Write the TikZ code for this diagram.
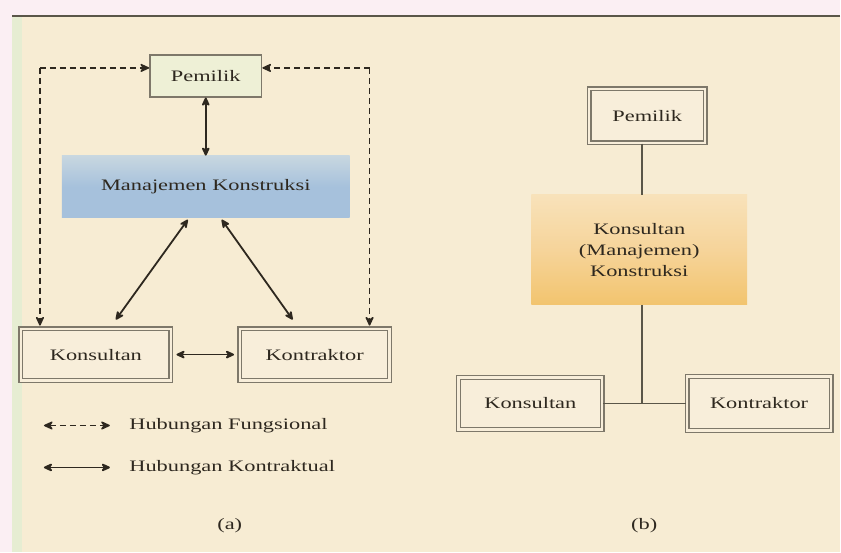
\documentclass[tikz,border=0pt]{standalone}
\usepackage{fontspec}
\setmainfont{Liberation Serif}[FakeStretch=1.4]
\usetikzlibrary{arrows.meta}
\definecolor{paper}{HTML}{F7ECD3}
\definecolor{strip}{HTML}{FBEFF3}
\definecolor{frame}{HTML}{5A5648}
\definecolor{edge}{HTML}{E6EDD2}
\definecolor{boxline}{HTML}{7E786A}
\definecolor{greenish}{HTML}{EEF0D6}
\definecolor{creambox}{HTML}{F8EEDA}
\definecolor{mkblue}{HTML}{A6C1DC}
\definecolor{mkblue2}{HTML}{C8D7E0}
\definecolor{orng}{HTML}{F2C46E}
\definecolor{orng2}{HTML}{F6D49A}
\definecolor{orng3}{HTML}{F8E2BA}
\definecolor{ink}{HTML}{2E281F}
\begin{document}
\begin{tikzpicture}[x=1pt,y=-1pt,
  lbl/.style={font=\fontsize{16}{19}\selectfont, text=ink},
  plainbox/.style={lbl, draw=boxline, line width=1.4pt, fill=creambox, inner sep=0pt},
  dblbox/.style={plainbox, double=creambox, double distance=2.2pt},
  head/.style={Stealth[length=11pt,width=10pt,round]},
  rel/.style={draw=ink, line width=1.8pt, {Stealth[length=11pt,width=10pt,round]}-{Stealth[length=11pt,width=10pt,round]}},
  funct/.style={draw=ink, line width=1.4pt, dash pattern=on 6pt off 4pt},
  tip/.style={-{Stealth[length=11pt,width=10pt,round]}},
  link/.style={draw=frame, line width=1.8pt}]
% paper and frame
\fill[strip] (0,0) rectangle (841,553);
\fill[paper] (12,16) rectangle (841,553);
\fill[edge] (12,16) rectangle (22,553);
\draw[frame, line width=2pt] (841,16) -- (12,16);

% ---------- (a) ----------
\node[plainbox, fill=greenish, minimum width=112pt, minimum height=42pt] (own) at (206,76) {Pemilik};
\node[lbl, inner sep=0pt, minimum width=288pt, minimum height=62pt,
      top color=mkblue2, bottom color=mkblue, middle color=mkblue] (mk) at (206,187) {Manajemen Konstruksi};
\node[dblbox, minimum width=150pt, minimum height=52pt] (kons) at (96,355) {Konsultan};
\node[dblbox, minimum width=150pt, minimum height=52pt] (kontr) at (315,355) {Kontraktor};

% dashed functional links from the owner
\coordinate (ftl) at (40,68);
\coordinate (ftr) at (370,68);
\coordinate (fbl) at (40,326);
\coordinate (fbr) at (370,326);
\draw[funct, tip] (ftl) -- (own.west |- ftl);
\draw[funct, tip] (ftr) -- (own.east |- ftr);
\draw[funct, tip] (ftl) -- (fbl);
\draw[funct, tip] (ftr) -- (fbr);

% contractual links
\coordinate (mka) at (188,220); \coordinate (kna) at (116,320);
\coordinate (mkb) at (222,220); \coordinate (knb) at (293,320);
\draw[rel] (own.south) -- (mk.north);
\draw[rel] (mka) -- (kna);
\draw[rel] (mkb) -- (knb);
\draw[rel, shorten <=5pt, shorten >=5pt] (kons.east) -- (kontr.west);

% legend
\coordinate (l1a) at (44,426); \coordinate (l1b) at (110,426);
\coordinate (l2a) at (44,468); \coordinate (l2b) at (110,468);
\draw[funct, {Stealth[length=11pt,width=10pt,round]}-{Stealth[length=11pt,width=10pt,round]}] (l1a) -- (l1b);
\draw[rel] (l2a) -- (l2b);
\node[lbl, anchor=west] (t1) at (126,426) {Hubungan Fungsional};
\node[lbl, anchor=west] (t2) at (126,468) {Hubungan Kontraktual};
\node[lbl] (capa) at (230,526) {(a)};

% ---------- (b) ----------
\node[dblbox, minimum width=116pt, minimum height=54pt] (own2) at (648,116) {Pemilik};
\node[lbl, align=center, inner sep=0pt, minimum width=216pt, minimum height=110pt,
      top color=orng3, bottom color=orng, middle color=orng2] (cmk) at (640,250)
      {Konsultan\\[2pt](Manajemen)\\[2pt]Konstruksi};
\node[dblbox, minimum width=144pt, minimum height=52pt] (kons2) at (531,404) {Konsultan};
\node[dblbox, minimum width=144pt, minimum height=54pt] (kontr2) at (760,404) {Kontraktor};
\coordinate (hub) at (643,403);
\draw[link] (own2.south -| hub) -- (cmk.north -| hub);
\draw[link] (cmk.south -| hub) -- (hub);
\draw[link] (kons2.east) -- (kontr2.west);
\node[lbl] (capb) at (645,526) {(b)};
\end{tikzpicture}
\end{document}
